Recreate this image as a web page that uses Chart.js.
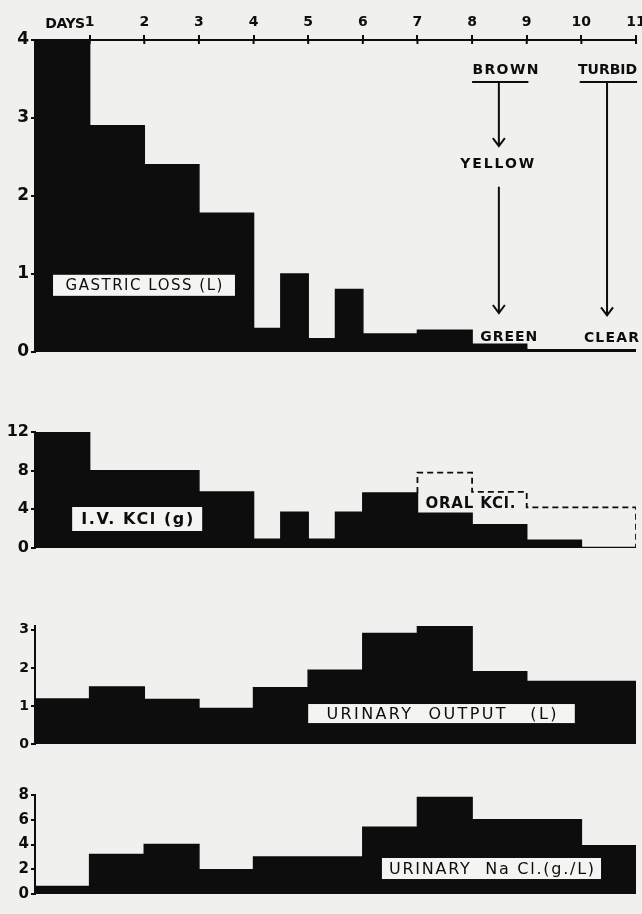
<!DOCTYPE html>
<html>
<head>
<meta charset="utf-8">
<script src="https://cdn.jsdelivr.net/npm/chart.js@4.4.1/dist/chart.umd.min.js"></script>
<style>
    html, body { margin: 0; padding: 0; background: #f0f0ee; }
    #wrap { position: relative; width: 642px; height: 914px; }
    canvas { position: absolute; left: 0; }
</style>
</head>
<body>
<div id="wrap">
    <canvas id="gastricChart" width="642" height="362" style="top:0px"></canvas>
    <canvas id="kclChart" width="642" height="150" style="top:410px"></canvas>
    <canvas id="urineChart" width="642" height="150" style="top:605px"></canvas>
    <canvas id="naclChart" width="642" height="130" style="top:775px"></canvas>
</div>
<script>
// days along the top axis
const dayTicks = [1, 2, 3, 4, 5, 6, 7, 8, 9, 10, 11];

// gastric loss (L), value held from each edge to the next
const gastricEdges = [0, 1, 2, 3, 4, 4.5, 5, 5.5, 6, 7, 8, 9, 11];
const gastricLoss = [4, 2.9, 2.4, 1.78, 0.3, 1.0, 0.17, 0.8, 0.23, 0.28, 0.1, 0.03];
const gastricTicks = [0, 1, 2, 3, 4];

// I.V. KCl (g) and oral KCl total (dashed)
const kclEdges = [0, 1, 3, 4, 4.5, 5, 5.5, 6, 7, 8, 9, 10, 11];
const ivKcl = [12, 8, 5.8, 0.9, 3.7, 0.9, 3.7, 5.7, 3.6, 2.4, 0.8, 0.05];
const oralEdges = [7, 8, 9, 11];
const oralKcl = [7.8, 5.8, 4.2];
const kclTicks = [0, 4, 8, 12];

// urinary output (L)
const urineEdges = [0, 1, 2, 3, 4, 5, 6, 7, 8, 9, 11];
const urineOutput = [1.18, 1.5, 1.17, 0.93, 1.48, 1.94, 2.9, 3.08, 1.9, 1.64];
const urineTicks = [0, 1, 2, 3];

// urinary NaCl (g/L)
const naclEdges = [0, 1, 2, 3, 4, 6, 7, 8, 10, 11];
const urineNacl = [0.6, 3.2, 4.0, 1.95, 3.0, 5.4, 7.8, 6.0, 3.9];
const naclTicks = [0, 2, 4, 6, 8];

const INK = '#0d0d0d';
const FONT = 'DejaVu Sans';

document.addEventListener('DOMContentLoaded', function() {
    createGastricChart();
    createKclChart();
    createUrineChart();
    createNaclChart();
});

function stepPoints(edges, values) {
    const pts = values.map((v, i) => ({ x: edges[i], y: v }));
    pts.push({ x: edges[edges.length - 1], y: values[values.length - 1] });
    return pts;
}

function blockDataset(points) {
    return {
        data: points,
        stepped: true,
        fill: 'origin',
        backgroundColor: INK,
        borderColor: INK,
        borderWidth: 1.5,
        pointRadius: 0
    };
}

function yAxis(ticks, max, size) {
    return {
        min: 0,
        max: max,
        afterBuildTicks: function(s) { s.ticks = ticks.map(v => ({ value: v })); },
        afterFit: function(s) { s.width = 35; s.paddingTop = 0; s.paddingBottom = 0; },
        grid: { drawOnChartArea: false, tickLength: 4, color: INK, lineWidth: 2 },
        border: { display: true, color: INK, width: 2 },
        ticks: { color: INK, padding: 2, font: { family: FONT, size: size, weight: 'bold' } }
    };
}

function hiddenX() {
    return { type: 'linear', min: 0, max: 11, display: false };
}

function baseOptions(scales, padding) {
    return {
        responsive: false,
        animation: false,
        devicePixelRatio: 1,
        events: [],
        layout: { padding: padding },
        plugins: { legend: { display: false }, tooltip: { enabled: false } },
        scales: scales
    };
}

// text spread to a given width, centred on x
function spacedText(ctx, text, cx, cy, width, size, weight) {
    ctx.save();
    ctx.font = (weight || 'normal') + ' ' + size + 'px "' + FONT + '"';
    ctx.fillStyle = INK;
    ctx.textAlign = 'left';
    ctx.textBaseline = 'middle';
    ctx.letterSpacing = '0px';
    const w = ctx.measureText(text).width;
    const sp = (width - w) / Math.max(1, text.length - 1);
    ctx.letterSpacing = sp.toFixed(2) + 'px';
    ctx.fillText(text, cx - width / 2, cy);
    ctx.restore();
}

function labelBox(chart, text, x0, x1, y0, y1, textW, size, weight) {
    const xs = chart.scales.x, ys = chart.scales.y, ctx = chart.ctx;
    const left = xs.getPixelForValue(x0), right = xs.getPixelForValue(x1);
    const top = ys.getPixelForValue(y0), bottom = ys.getPixelForValue(y1);
    ctx.save();
    ctx.fillStyle = '#f4f4f2';
    ctx.fillRect(left, top, right - left, bottom - top);
    ctx.restore();
    spacedText(ctx, text, (left + right) / 2, (top + bottom) / 2 + 1, textW, size, weight);
}

function arrowDown(chart, x, y0, y1) {
    const xs = chart.scales.x, ys = chart.scales.y, ctx = chart.ctx;
    const px = xs.getPixelForValue(x), top = ys.getPixelForValue(y0), bot = ys.getPixelForValue(y1);
    ctx.save();
    ctx.strokeStyle = INK;
    ctx.lineWidth = 2;
    ctx.beginPath();
    ctx.moveTo(px, top);
    ctx.lineTo(px, bot);
    ctx.moveTo(px - 6, bot - 8);
    ctx.lineTo(px, bot);
    ctx.lineTo(px + 6, bot - 8);
    ctx.stroke();
    ctx.restore();
}

function underline(chart, x0, x1, y) {
    const xs = chart.scales.x, ys = chart.scales.y, ctx = chart.ctx;
    ctx.save();
    ctx.strokeStyle = INK;
    ctx.lineWidth = 2;
    ctx.beginPath();
    ctx.moveTo(xs.getPixelForValue(x0), ys.getPixelForValue(y));
    ctx.lineTo(xs.getPixelForValue(x1), ys.getPixelForValue(y));
    ctx.stroke();
    ctx.restore();
}

function textAt(chart, text, x, y, width, size) {
    spacedText(chart.ctx, text, chart.scales.x.getPixelForValue(x), chart.scales.y.getPixelForValue(y), width, size, 'bold');
}

function createGastricChart() {
    const ctx = document.getElementById('gastricChart');
    if (!ctx) return;

    const notes = {
        id: 'gastricNotes',
        afterDraw: function(chart) {
            const xs = chart.scales.x, c = chart.ctx;
            // small cross marks through the day axis
            c.save();
            c.strokeStyle = INK;
            c.lineWidth = 2;
            dayTicks.forEach(function(d) {
                const px = xs.getPixelForValue(d);
                c.beginPath();
                c.moveTo(px, xs.bottom - 1);
                c.lineTo(px, xs.bottom + 4);
                c.stroke();
            });
            c.font = 'bold 14px "' + FONT + '"';
            c.fillStyle = INK;
            c.textAlign = 'right';
            c.textBaseline = 'bottom';
            c.letterSpacing = '-0.5px';
            c.fillText('DAYS', xs.getPixelForValue(1) - 5, xs.bottom - 9);
            c.restore();

            labelBox(chart, 'GASTRIC LOSS (L)', 0.33, 3.66, 0.99, 0.72, 157, 15, 'normal');

            textAt(chart, 'BROWN', 8.61, 3.61, 66, 14);
            underline(chart, 8.0, 9.03, 3.46);
            arrowDown(chart, 8.49, 3.46, 2.64);
            textAt(chart, 'YELLOW', 8.46, 2.40, 74, 14);
            arrowDown(chart, 8.49, 2.12, 0.5);
            textAt(chart, 'GREEN', 8.67, 0.19, 57, 14);

            textAt(chart, 'TURBID', 10.48, 3.61, 59, 14);
            underline(chart, 9.97, 11.02, 3.46);
            arrowDown(chart, 10.47, 3.46, 0.47);
            textAt(chart, 'CLEAR', 10.55, 0.18, 55, 14);
        }
    };

    new Chart(ctx, {
        type: 'line',
        data: { datasets: [blockDataset(stepPoints(gastricEdges, gastricLoss))] },
        options: baseOptions({
            x: {
                type: 'linear',
                position: 'top',
                min: 0,
                max: 11,
                afterBuildTicks: function(s) { s.ticks = dayTicks.map(v => ({ value: v })); },
                afterFit: function(s) { s.height = 40; s.paddingLeft = 0; s.paddingRight = 0; },
                grid: { drawOnChartArea: false, tickLength: 5, color: INK, lineWidth: 2 },
                border: { display: true, color: INK, width: 2 },
                ticks: { color: INK, padding: 4, maxRotation: 0, font: { family: FONT, size: 14, weight: 'bold' } }
            },
            y: yAxis(gastricTicks, 4, 17)
        }, { left: 0, right: 6, top: 0, bottom: 10 }),
        plugins: [notes]
    });
}

function createKclChart() {
    const ctx = document.getElementById('kclChart');
    if (!ctx) return;

    // dashed outline rises from the top of the I.V. block at the first oral day
    const startIv = ivKcl[kclEdges.indexOf(oralEdges[0] - 1)];
    const oralPts = [{ x: oralEdges[0], y: startIv }]
        .concat(oralKcl.map((v, i) => ({ x: oralEdges[i], y: v })))
        .concat([{ x: oralEdges[oralEdges.length - 1], y: 0 }]);

    const notes = {
        id: 'kclNotes',
        afterDraw: function(chart) {
            labelBox(chart, 'I.V. KCl (g)', 0.68, 3.06, 4.24, 1.76, 112, 16, 'bold');
            textAt(chart, 'ORAL KCl.', 7.97, 4.55, 90, 15);
        }
    };

    new Chart(ctx, {
        type: 'line',
        data: {
            datasets: [
                {
                    data: oralPts,
                    stepped: true,
                    fill: false,
                    borderColor: INK,
                    borderWidth: 1.8,
                    borderDash: [6, 4],
                    pointRadius: 0
                },
                blockDataset(stepPoints(kclEdges, ivKcl))
            ]
        },
        options: baseOptions({ x: hiddenX(), y: yAxis(kclTicks, 12, 16) },
            { left: 0, right: 6, top: 22, bottom: 12 }),
        plugins: [notes]
    });
}

function createUrineChart() {
    const ctx = document.getElementById('urineChart');
    if (!ctx) return;

    const notes = {
        id: 'urineNotes',
        afterDraw: function(chart) {
            labelBox(chart, 'URINARY  OUTPUT   (L)', 5.0, 9.88, 1.05, 0.55, 230, 16, 'normal');
        }
    };

    new Chart(ctx, {
        type: 'line',
        data: { datasets: [blockDataset(stepPoints(urineEdges, urineOutput))] },
        options: baseOptions({ x: hiddenX(), y: yAxis(urineTicks, 3.1, 14) },
            { left: 0, right: 6, top: 21, bottom: 11 }),
        plugins: [notes]
    });
}

function createNaclChart() {
    const ctx = document.getElementById('naclChart');
    if (!ctx) return;

    const notes = {
        id: 'naclNotes',
        afterDraw: function(chart) {
            labelBox(chart, 'URINARY  Na Cl.(g./L)', 6.35, 10.36, 2.91, 1.21, 205, 16, 'normal');
        }
    };

    new Chart(ctx, {
        type: 'line',
        data: { datasets: [blockDataset(stepPoints(naclEdges, urineNacl))] },
        options: baseOptions({ x: hiddenX(), y: yAxis(naclTicks, 8, 15) },
            { left: 0, right: 6, top: 20, bottom: 11 }),
        plugins: [notes]
    });
}
</script>
</body>
</html>
